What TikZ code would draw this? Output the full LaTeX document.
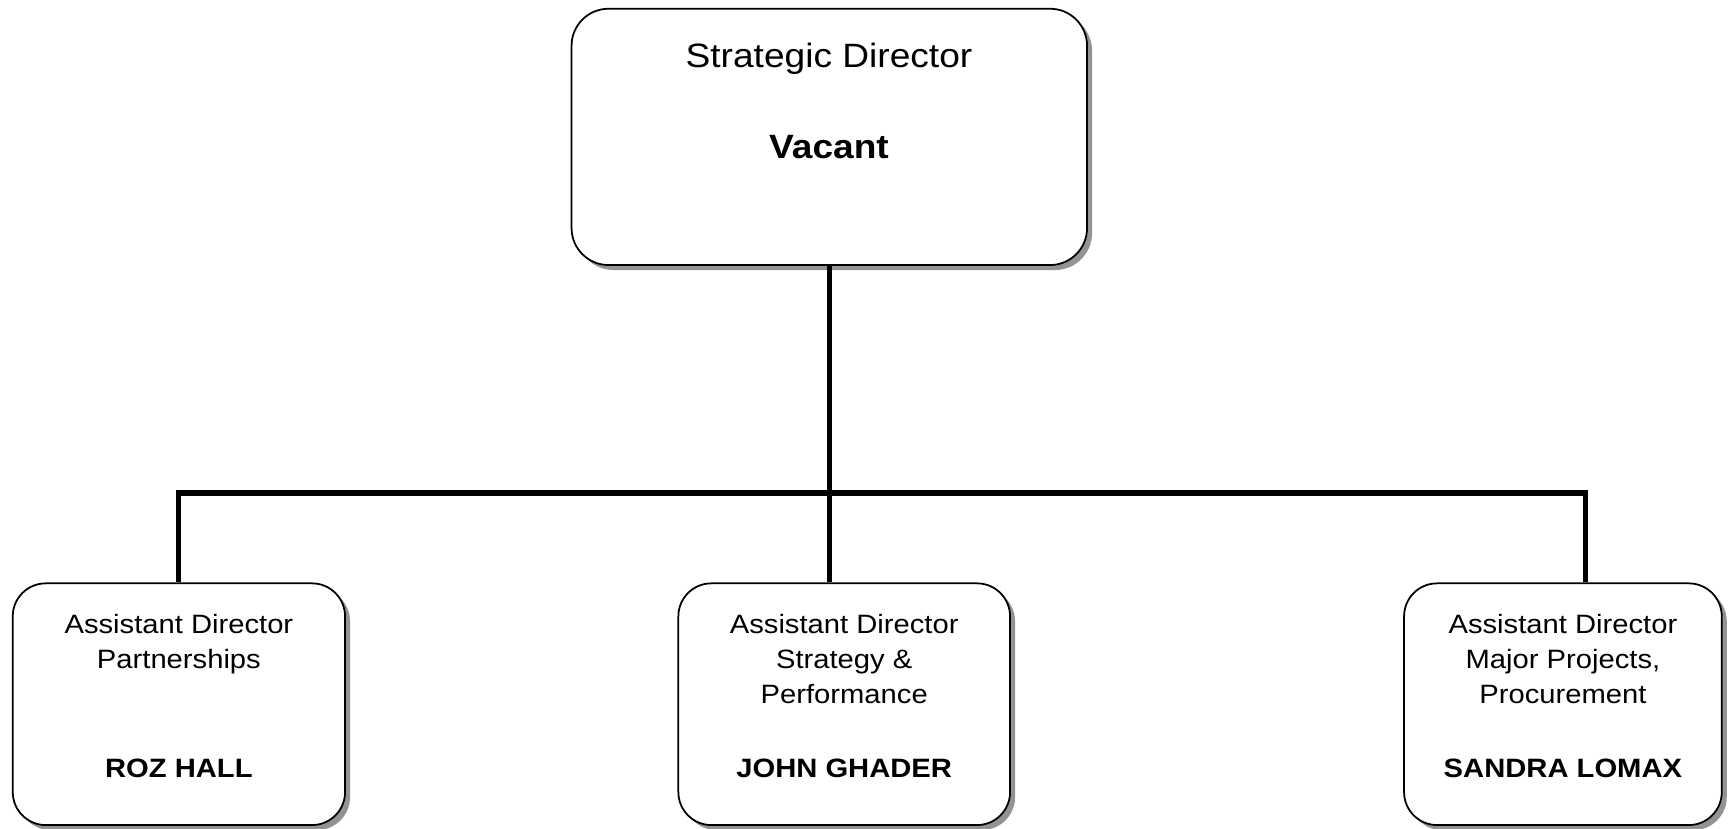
\documentclass[tikz,border=0pt]{standalone}
\usepackage{fontspec}
\setmainfont{Liberation Sans}[FakeStretch=1.1]
\usetikzlibrary{shadows}

\tikzset{
  post/.style={draw, line width=0.5pt, fill=white, rounded corners=3.3mm,
    drop shadow={fill=gray!85, opacity=1, shadow xshift=0.5mm, shadow yshift=-0.5mm}},
  link/.style={line width=1.55pt},
  bigtext/.style={inner sep=0pt, font=\fontsize{9.6pt}{11pt}\selectfont},
  smalltext/.style={inner sep=0pt, align=center, font=\fontsize{7.55pt}{9.85pt}\selectfont}
}

\begin{document}
\begin{tikzpicture}
      \useasboundingbox (0,0) rectangle (17.30,-8.29);

      % Boxes
      \node [post, rounded corners=3.7mm, minimum width=5.155cm, minimum height=2.563cm] (sd) at (8.293,-1.369) {};
      \node [post, minimum width=3.323cm, minimum height=2.417cm] (ad1) at (1.789,-7.042) {};
      \node [post, minimum width=3.317cm, minimum height=2.417cm] (ad2) at (8.442,-7.042) {};
      \node [post, minimum width=3.177cm, minimum height=2.417cm] (ad3) at (15.629,-7.042) {};

      % Top box text
      \node [bigtext, anchor=base] (sdt) at (8.29,-0.68) {Strategic Director};
      \node [bigtext, anchor=base] (sdn) at (8.29,-1.59) {\textbf{Vacant}};

      % Post titles
      \node [smalltext, anchor=north] (ad1t) at (1.789,-6.14) {Assistant Director\\Partnerships};
      \node [smalltext, anchor=north] (ad2t) at (8.442,-6.14) {Assistant Director\\Strategy \&\\Performance};
      \node [smalltext, anchor=north] (ad3t) at (15.629,-6.14) {Assistant Director\\Major Projects,\\Procurement};

      % Post holders
      \node [smalltext, anchor=base] (ad1n) at (1.789,-7.77) {\textbf{ROZ HALL}};
      \node [smalltext, anchor=base] (ad2n) at (8.442,-7.77) {\textbf{JOHN GHADER}};
      \node [smalltext, anchor=base] (ad3n) at (15.629,-7.77) {\textbf{SANDRA LOMAX}};

      % Bus line
      \coordinate (busL) at (1.787,-4.928);
      \coordinate (busR) at (15.855,-4.928);
      \draw [link] (sd.south) -- (sd.south |- busL);
      \draw [link] (busL |- ad1.north) -- (busL) -- (busR) -- (busR |- ad3.north);
      \draw [link] (sd.south |- busL) -- (sd.south |- ad2.north);
\end{tikzpicture}
\end{document}
